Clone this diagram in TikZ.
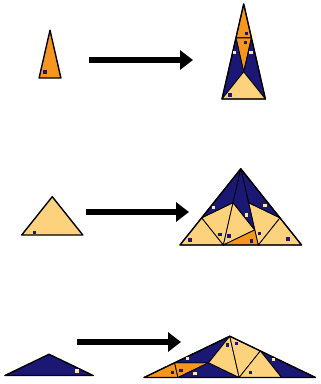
\documentclass[tikz,border=0pt]{standalone}
\usepackage{tikz}
\usetikzlibrary{arrows.meta}
\definecolor{orng}{HTML}{F7961E}
\definecolor{ylw}{HTML}{FDD27C}
\definecolor{navy}{HTML}{1B1875}
\definecolor{pale}{HTML}{FFE7A0}
\tikzset{
  tA/.style={draw=black,line width=0.8pt,line join=round,fill=orng},
  tB/.style={draw=black,line width=0.8pt,line join=round,fill=ylw},
  tC/.style={draw=black,line width=0.8pt,line join=round,fill=navy},
  rim/.style={draw=black,line width=1.4pt,line join=round},
  ar/.style={-{Triangle[length=13pt,width=19pt]},line width=5.5pt},
  dk/.style={fill=navy},
  lt/.style={fill=pale}
}

\begin{document}
\begin{tikzpicture}[x=1pt,y=-1pt]
\useasboundingbox (0,0) rectangle (321,384);

% single tiles (left column)
\begin{scope}[shift={(39.1,78)},x=49pt,y=49pt]
 \draw[tA,rim] (0,0) -- (0.445,0) -- (0.2225,0.975) -- cycle;
\end{scope}
\begin{scope}[shift={(21.7,235)},x=49pt,y=49pt]
 \draw[tB,rim] (0,0) -- (1.247,0) -- (0.6235,0.782) -- cycle;
\end{scope}
\begin{scope}[shift={(4.9,375.5)},x=49pt,y=49pt]
 \draw[tC,rim] (0,0) -- (1.802,0) -- (0.901,0.434) -- cycle;
\end{scope}

% arrows
\foreach \n/\xa/\xb/\y in {1/89/193/60,2/86/189/212,3/77/181/342}{
 \coordinate (s\n) at (\xa,\y);
 \coordinate (e\n) at (\xb,\y);
 \draw[ar] (s\n) -- (e\n);}

% inflated A
\begin{scope}[shift={(222,99)},x=34.8pt,y=34.8pt]
 \coordinate (a-R) at (0,0);
 \coordinate (a-S) at (1.247,0);
 \coordinate (a-T) at (0.6235,2.732);
 \coordinate (a-Q) at (0.6235,0.782);
 \coordinate (a-P) at (0.401,1.757);
 \coordinate (a-U) at (0.846,1.757);
 \foreach \u/\v/\w in {T/P/U,P/U/Q} \draw[tA] (a-\u) -- (a-\v) -- (a-\w) -- cycle;
 \foreach \u/\v/\w in {R/Q/P,S/Q/U} \draw[tC] (a-\u) -- (a-\v) -- (a-\w) -- cycle;
 \draw[tB] (a-R) -- (a-S) -- (a-Q) -- cycle;
 \draw[rim] (a-R) -- (a-S) -- (a-T) -- cycle;
\end{scope}

% inflated B
\begin{scope}[shift={(180,245)},x=34.8pt,y=34.8pt]
 \coordinate (b-L) at (0,0);
 \coordinate (b-X) at (1.247,0);
 \coordinate (b-O) at (2.247,0);
 \coordinate (b-R) at (3.494,0);
 \coordinate (b-V) at (0.6235,0.7818);
 \coordinate (b-W) at (2.8705,0.7818);
 \coordinate (b-T) at (1.747,2.191);
 \coordinate (b-M) at (1.524,1.216);
 \coordinate (b-N) at (1.970,1.216);
 \coordinate (b-K) at (2.148,0.434);
 \foreach \u/\v/\w in {L/X/V,V/X/M,X/M/K,O/R/W,W/O/N} \draw[tB] (b-\u) -- (b-\v) -- (b-\w) -- cycle;
 \draw[tA] (b-X) -- (b-O) -- (b-K) -- cycle;
 \foreach \u/\v/\w in {V/T/M,W/T/N,T/M/K} \draw[tC] (b-\u) -- (b-\v) -- (b-\w) -- cycle;
 \draw[rim] (b-L) -- (b-R) -- (b-T) -- cycle;
\end{scope}

% inflated C
\begin{scope}[shift={(144,377.5)},x=33.97pt,y=33.97pt]
 \coordinate (c-L) at (0,0);
 \coordinate (c-E) at (1,0);
 \coordinate (c-M) at (2.802,0);
 \coordinate (c-Y) at (4.049,0);
 \coordinate (c-R) at (5.049,0);
 \coordinate (c-P) at (0.901,0.434);
 \coordinate (c-K) at (1.901,0.434);
 \coordinate (c-T) at (2.5245,1.216);
 \coordinate (c-Z) at (3.425,0.782);
 \foreach \u/\v/\w in {L/E/P,P/K/E} \draw[tA] (c-\u) -- (c-\v) -- (c-\w) -- cycle;
 \foreach \u/\v/\w in {P/T/K,E/M/K,R/Y/Z} \draw[tC] (c-\u) -- (c-\v) -- (c-\w) -- cycle;
 \foreach \u/\v/\w in {T/K/M,T/M/Z,M/Y/Z} \draw[tB] (c-\u) -- (c-\v) -- (c-\w) -- cycle;
 \draw[rim] (c-L) -- (c-R) -- (c-T) -- cycle;
\end{scope}

% orientation marks
\foreach \p in {(45,72),(34.3,232.3),(246.5,33.3),(245.7,42.5),(230,95),
  (190,240),(220,234.3),(229,236),(259.7,233.3),(288,239),(251.3,241),
  (172.3,372.7),(181,370.7),(227.3,345),(236.7,343.3),(250.7,372.7)}
 \fill[dk] \p ++(-1.7,-1.7) rectangle ++(3.4,3.4);
\foreach \p in {(77,371),(234.5,52.3),(250.8,52.3),(213.3,207.7),(265,205.7),
  (246.5,215),(187.7,358.3),(195,373.3),(273.3,359.3)}
 \fill[lt] \p ++(-1.7,-1.7) rectangle ++(3.4,3.4);
\end{tikzpicture}
\end{document}
